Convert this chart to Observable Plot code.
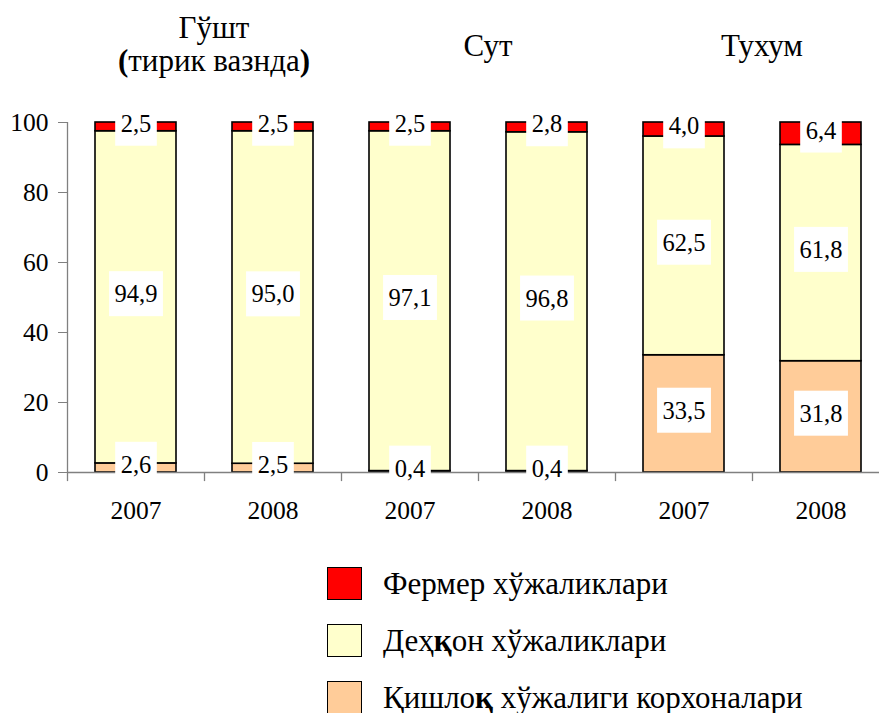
<!DOCTYPE html>
<html><head><meta charset="utf-8">
<script src="https://cdn.jsdelivr.net/npm/d3@7"></script>
<script src="https://cdn.jsdelivr.net/npm/@observablehq/plot@0.6"></script>
<style>
body{margin:0;background:#fff;font-family:"Liberation Serif","Times New Roman",serif;color:#000;}
#legend{padding-top:15px;padding-left:327px;}
.row{display:flex;align-items:center;height:57px;font-size:31px;white-space:nowrap;}
.sw{width:33px;height:31px;border:1.5px solid #000;margin-right:21px;box-sizing:content-box;flex:none;}
svg text{font-family:"Liberation Serif","Times New Roman",serif;}
</style></head><body>
<div id="chart"></div>
<div id="legend"></div>
<script>
const groups = ["Гўшт", "Сут", "Тухум"];
const groupTitles = [["Гўшт", "(тирик вазнда)"], ["Сут"], ["Тухум"]];
const years = ["2007", "2008"];
const series = ["Қишлоқ хўжалиги корхоналари", "Деҳқон хўжаликлари", "Фермер хўжаликлари"];
const legendOrder = ["Фермер хўжаликлари", "Деҳқон хўжаликлари", "Қишлоқ хўжалиги корхоналари"];
const legendHtml = ["Фермер хўжаликлари", "Деҳ<b>қ</b>он хўжаликлари", "Қишло<b>қ</b> хўжалиги корхоналари"];
const colors = ["#FFCC99", "#FFFFCC", "#FF0000"];
const qishloq = [2.6, 2.5, 0.4, 0.4, 33.5, 31.8];
const dehqon = [94.9, 95.0, 97.1, 96.8, 62.5, 61.8];
const fermer = [2.5, 2.5, 2.5, 2.8, 4.0, 6.4];
const yTicks = [0, 20, 40, 60, 80, 100];

const keys = groups.flatMap(g => years.map(y => g + " " + y));
const seriesValues = [qishloq, dehqon, fermer];
const rows = [];
series.forEach((s, si) => keys.forEach((k, i) => rows.push({bar: k, series: s, value: seriesValues[si][i]})));

const W = 879, H = 540;
const xStart = 67, xEnd = 889;
const step = (xEnd - xStart) / keys.length;
const fmt = v => v.toFixed(1).replace(".", ",");

const chart = Plot.plot({
  width: W, height: H,
  marginTop: 122, marginBottom: 68, marginLeft: 67, marginRight: 0,
  style: "font-family:'Liberation Serif','Times New Roman',serif;font-size:24px;color:#000;background:#fff;overflow:visible;",
  x: {domain: keys, range: [xStart, xEnd], paddingInner: 0.41, paddingOuter: 0.205, align: 0.5, label: null},
  y: {domain: [0, 100], label: null},
  color: {domain: series, range: colors},
  marks: [
    Plot.barY(rows, {x: "bar", y: "value", fill: "series", stroke: "#000", strokeWidth: 1.6}),
    Plot.ruleY([0], {stroke: "#808080", strokeWidth: 1.3}),
    Plot.ruleX(keys, {x: d => d, y1: 0, y2: -2.6, dx: -step / 2, stroke: "#808080", strokeWidth: 1.3}),
    Plot.ruleX([keys[0]], {x: d => d, y1: 0, y2: 100, dx: -step / 2, stroke: "#808080", strokeWidth: 1.3}),
    Plot.axisY({ticks: yTicks, tickSize: 9, tickPadding: 10, stroke: "#808080", fill: "#000", fontSize: 25.5, label: null}),
    Plot.axisX({tickSize: 0, tickPadding: 28, tickFormat: k => k.split(" ")[1], fill: "#000", fontSize: 25.5, label: null}),
    Plot.text(rows, Plot.stackY({x: "bar", y: "value", text: d => fmt(d.value), fill: "#000", fontSize: 24.5, dy: -3}))
  ]
});
chart.setAttribute("font-family", "'Liberation Serif','Times New Roman',serif");
document.getElementById("chart").appendChild(chart);

// white label boxes behind value labels (the only texts containing a comma)
const NS = "http://www.w3.org/2000/svg";
Array.from(chart.querySelectorAll("text")).filter(t => t.textContent.includes(",")).forEach(t => {
  const b = t.getBBox();
  const r = document.createElementNS(NS, "rect");
  const px = 5.5, py = 9;
  r.setAttribute("x", b.x - px);
  r.setAttribute("y", b.y - py);
  r.setAttribute("width", b.width + 2 * px);
  r.setAttribute("height", b.height + 2 * py);
  r.setAttribute("fill", "#fff");
  r.setAttribute("stroke", "none");
  const tr = t.getAttribute("transform");
  if (tr) r.setAttribute("transform", tr);
  t.parentNode.insertBefore(r, t);
});

// group titles
const xs = chart.scale("x");
const bw = xs.bandwidth;
const svg = d3.select(chart);
groupTitles.forEach((lines, gi) => {
  const ks = years.map(y => groups[gi] + " " + y);
  const cx = d3.mean(ks, k => xs.apply(k) + bw / 2) + 10;
  const t = svg.append("text")
    .attr("text-anchor", "middle")
    .attr("font-size", 31)
    .attr("fill", "#000")
    .attr("x", cx);
  if (lines.length === 1) {
    t.attr("y", 56).text(lines[0]);
  } else {
    t.attr("y", 38);
    t.append("tspan").attr("x", cx).attr("dy", 0).text(lines[0]);
    const ln = t.append("tspan").attr("x", cx).attr("dy", 33);
    const s = lines[1];
    ln.append("tspan").attr("font-weight", "bold").text(s[0]);
    ln.append("tspan").text(s.slice(1, -1));
    ln.append("tspan").attr("font-weight", "bold").text(s[s.length - 1]);
  }
});

// legend
const lg = document.getElementById("legend");
legendOrder.forEach((name, i) => {
  const row = document.createElement("div");
  row.className = "row";
  const sw = document.createElement("div");
  sw.className = "sw";
  sw.style.background = colors[series.indexOf(name)];
  const lab = document.createElement("span");
  lab.innerHTML = legendHtml[i];
  row.appendChild(sw);
  row.appendChild(lab);
  lg.appendChild(row);
});
</script>
</body></html>
